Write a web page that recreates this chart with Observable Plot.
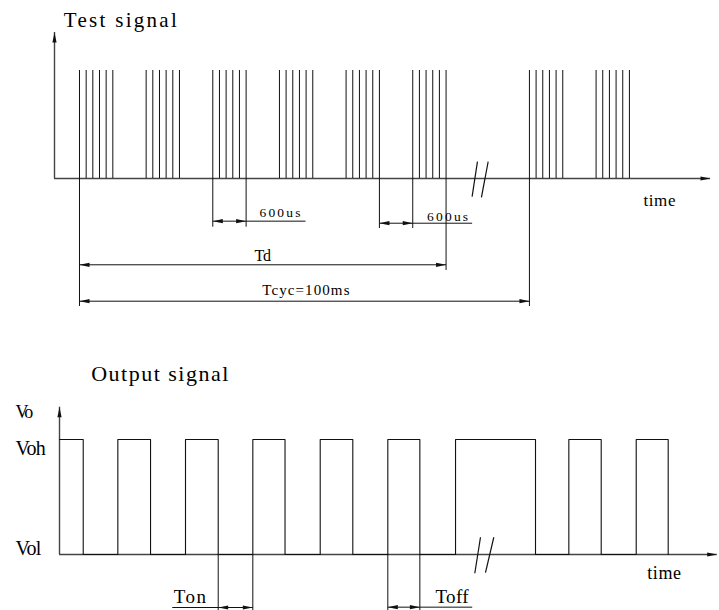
<!DOCTYPE html>
<html><head><meta charset="utf-8">
<script src="https://cdn.jsdelivr.net/npm/d3@7"></script>
<script src="https://cdn.jsdelivr.net/npm/@observablehq/plot@0.6"></script>
<style>
body{margin:0;background:#fff;}
#chart{width:719px;height:610px;overflow:hidden;background:#fff;}
#chart svg{display:block;}
#chart svg text{font-family:"Times New Roman","Liberation Serif",Times,"DejaVu Serif","Noto Serif",serif !important;}
</style></head><body><div id="chart"></div>
<script>
// ===== Test signal (time in µs, broken axis) =====
const testAxis = [-450, 103260];          // axis start, axis end (arrow tip)
const testBreak = [7206, 99105];          // time span hidden by the axis break
const testBursts = [
  [0, 120, 240, 360, 480, 600],
  [1200, 1320, 1440, 1560, 1680, 1800],
  [2400, 2520, 2640, 2760, 2880, 3000],
  [3600, 3720, 3840, 3960, 4080, 4200],
  [4800, 4920, 5040, 5160, 5280, 5400],
  [6000, 6120, 6240, 6360, 6480, 6600],
  [100000, 100120, 100240, 100360, 100480, 100600],
  [101200, 101320, 101440, 101560, 101680, 101800]
];
const testExtensions = [ // witness lines below the baseline
  {t: 0, bottom: -1.185}, {t: 2400, bottom: -0.451}, {t: 3000, bottom: -0.451},
  {t: 5400, bottom: -0.463}, {t: 6000, bottom: -0.463}, {t: 6600, bottom: -0.852},
  {t: 100000, bottom: -1.185}
];
const testDims = [
  {label: "600us", from: 2400, to: 3000, row: -0.395, leaderTo: 4070, textAt: 3240, textRow: -0.358, fs: 13.5},
  {label: "600us", from: 5400, to: 6000, row: -0.414, leaderTo: 7069, textAt: 6258, textRow: -0.389, fs: 13.5},
  {label: "Td", from: 0, to: 6600, row: -0.799, leaderTo: null, textAt: 3150, textRow: -0.766, fs: 16},
  {label: "Tcyc=100ms", from: 0, to: 100000, row: -1.136, leaderTo: null, textAt: 3289, textRow: -1.083, fs: 15}
];
const testLabels = [
  {label: "Test signal", t: -284, row: 1.407, fs: 21},
  {label: "time", t: 102052, row: -0.25, fs: 17}
];
const testBreakMarks = [
  {t1: 7069, y1: -0.167, t2: 7165, y2: 0.157},
  {t1: 99136, y1: -0.174, t2: 99257, y2: 0.157}
];
const testYAxisTop = 1.352;

// ===== Output signal =====
const outAxis = [-374, 103281];
const outBreak = [7174, 99126];
const outRises = [664, 1868, 3066, 4265, 5468, 6673, 100641, 101840];
const outFalls = [48, 1246, 2450, 3639, 4845, 6038, 100048, 101217, 102409];
const outExtensions = [
  {t: 2450, bottom: -0.52}, {t: 3066, bottom: -0.52},
  {t: 5468, bottom: -0.52}, {t: 6038, bottom: -0.52}
];
const outDims = [
  {label: "Ton", from: 2450, to: 3066, row: -0.461, leaderFrom: 1632, leaderTo: 2450, textAt: 1660, textRow: -0.426, fs: 19},
  {label: "Toff", from: 5468, to: 6038, row: -0.458, leaderFrom: 6038, leaderTo: 6970, textAt: 6317, textRow: -0.42, fs: 19}
];
const outLabels = [
  {label: "Output signal", t: 190, row: 1.507, fs: 22},
  {label: "time", t: 102036, row: -0.209, fs: 18}
];
const levelLabels = [
  {label: "Vo", row: 1.185, fs: 18},
  {label: "Voh", row: 0.867, fs: 20},
  {label: "Vol", row: 0.0, fs: 20}
];
const outBreakMarks = [
  {t1: 7016, y1: -0.163, t2: 7117, y2: 0.150},
  {t1: 99158, y1: -0.157, t2: 99306, y2: 0.150}
];
const outYAxisTop = 1.281;

// ===== helpers =====
const mkArrow = (dir) => ({draw(ctx) {
  const L = 10, w = 2.1;
  if (dir === "up") { ctx.moveTo(0, 0); ctx.lineTo(-w, L); ctx.lineTo(w, L); }
  else if (dir === "right") { ctx.moveTo(0, 0); ctx.lineTo(-L, -w); ctx.lineTo(-L, w); }
  else { ctx.moveTo(0, 0); ctx.lineTo(L, -w); ctx.lineTo(L, w); }
  ctx.closePath();
}});
const UP = mkArrow("up"), RIGHT = mkArrow("right"), LEFT = mkArrow("left");
const INK = "#111", AXIS = "#444", FONT = "Times New Roman, Liberation Serif, serif";
const spacing = {"Test signal": 2.3, "Output signal": 1.5, "600us": 2.2, "Td": -1.2,
  "Tcyc=100ms": 1.1, "time": 0.6, "Ton": 1.5, "Toff": 0.3, "Vo": -2, "Voh": -0.8, "Vol": -0.8};

// broken time axis: the hidden span is squeezed out before linear scaling
const squeeze = ([a, b]) => (t) => (t <= a ? t : t >= b ? t - (b - a) : a);

const texts = (data, opts) => data.map(d => Plot.text([d], {
  text: "label", fontSize: d.fs, fontFamily: FONT, textAnchor: "start", lineAnchor: "bottom", fill: "#000", ...opts}));

function dimMarks(dims) {
  const leaders = dims.filter(d => d.leaderTo != null).map(d => ({
    a: d.leaderFrom ?? d.to, b: d.leaderTo, row: d.row}));
  return [
    Plot.link(dims, {x1: "from", x2: "to", y1: "row", y2: "row", stroke: INK, strokeWidth: 1}),
    Plot.link(leaders, {x1: "a", x2: "b", y1: "row", y2: "row", stroke: INK, strokeWidth: 1}),
    Plot.dot(dims, {x: "from", y: "row", symbol: LEFT, fill: INK, stroke: "none"}),
    Plot.dot(dims, {x: "to", y: "row", symbol: RIGHT, fill: INK, stroke: "none"}),
    ...texts(dims, {x: "textAt", y: "textRow"})
  ];
}

// ===== Test signal plot =====
const testPlot = Plot.plot({
  width: 719, height: 330, margin: 0,
  x: {type: "linear", transform: squeeze(testBreak), range: [54, 710], axis: null},
  y: {domain: [0, 1], range: [178, 70], axis: null},
  style: {background: "white", color: "#000"},
  marks: [
    Plot.ruleY([0], {x1: testAxis[0], x2: testAxis[1], stroke: AXIS, strokeWidth: 1.4}),
    Plot.ruleX([testAxis[0]], {y1: 0, y2: testYAxisTop, stroke: AXIS, strokeWidth: 1.4}),
    Plot.dot([{t: testAxis[0], v: testYAxisTop}], {x: "t", y: "v", symbol: UP, fill: INK, stroke: "none"}),
    Plot.dot([{t: testAxis[1], v: 0}], {x: "t", y: "v", symbol: RIGHT, fill: INK, stroke: "none"}),
    Plot.ruleX(testBursts.flat(), {y1: 0, y2: 1, stroke: INK, strokeWidth: 1}),
    Plot.ruleX(testExtensions, {x: "t", y1: 0, y2: "bottom", stroke: INK, strokeWidth: 1}),
    Plot.link(testBreakMarks, {x1: "t1", y1: "y1", x2: "t2", y2: "y2", stroke: INK, strokeWidth: 1.2}),
    ...dimMarks(testDims),
    ...texts(testLabels, {x: "t", y: "row"})
  ]
});

// ===== Output signal plot =====
const edges = [...outFalls.map(t => ({t, v: 0})), ...outRises.map(t => ({t, v: 1}))]
  .sort((a, b) => a.t - b.t);
const wave = [{t: outAxis[0], v: 1}];
edges.forEach(e => { wave.push({t: e.t, v: 1 - e.v}); wave.push({t: e.t, v: e.v}); });

const outPlot = Plot.plot({
  width: 719, height: 280, margin: 0,
  x: {type: "linear", transform: squeeze(outBreak), range: [59, 716.7], axis: null},
  y: {domain: [0, 1], range: [224, 109], axis: null},
  style: {background: "white", color: "#000"},
  marks: [
    Plot.ruleY([0], {x1: outAxis[0], x2: outAxis[1], stroke: AXIS, strokeWidth: 1.4}),
    Plot.ruleX([outAxis[0]], {y1: 0, y2: outYAxisTop, stroke: AXIS, strokeWidth: 1.4}),
    Plot.dot([{t: outAxis[0], v: outYAxisTop}], {x: "t", y: "v", symbol: UP, fill: INK, stroke: "none"}),
    Plot.dot([{t: outAxis[1], v: 0}], {x: "t", y: "v", symbol: RIGHT, fill: INK, stroke: "none"}),
    Plot.line(wave, {x: "t", y: "v", stroke: INK, strokeWidth: 1.1}),
    Plot.ruleX(outExtensions, {x: "t", y1: 0, y2: "bottom", stroke: INK, strokeWidth: 1}),
    Plot.link(outBreakMarks, {x1: "t1", y1: "y1", x2: "t2", y2: "y2", stroke: INK, strokeWidth: 1.2}),
    ...dimMarks(outDims),
    ...texts(outLabels, {x: "t", y: "row"}),
    ...texts(levelLabels, {y: "row", frameAnchor: "left", dx: 15})
  ]
});

const host = document.getElementById("chart");
host.append(testPlot, outPlot);
d3.select(host).selectAll("text").each(function () {
  const s = spacing[this.textContent];
  if (s != null) this.setAttribute("letter-spacing", s);
});
</script></body></html>
